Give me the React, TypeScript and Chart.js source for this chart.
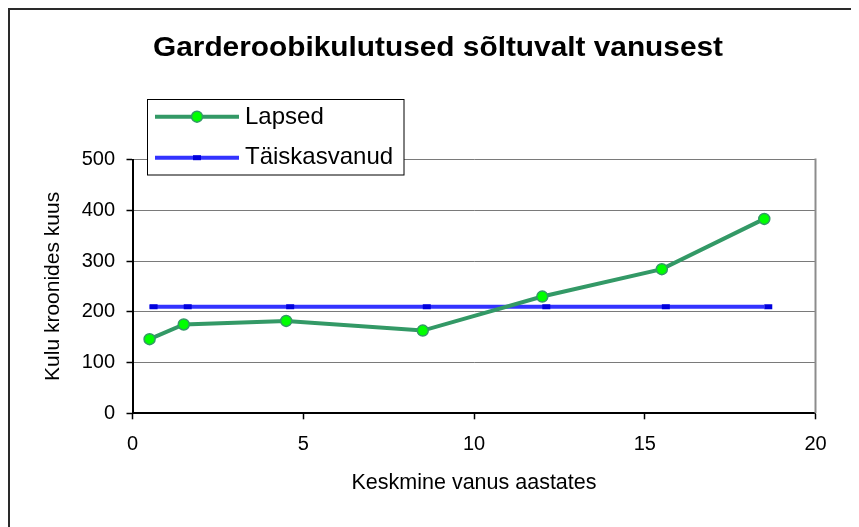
import React, { useEffect, useRef } from "react";
import { Chart, registerables } from "chart.js";

Chart.register(...registerables);

const chartTitle = "Garderoobikulutused sõltuvalt vanusest";
const xAxisTitle = "Keskmine vanus aastates";
const yAxisTitle = "Kulu kroonides kuus";

const seriesNames = ["Lapsed", "Täiskasvanud"];
const ages = [0.5, 1.5, 4.5, 8.5, 12, 15.5, 18.5];
const childCosts = [146, 175, 182, 163, 230, 284, 383];
const adultCosts = [210, 210, 210, 210, 210, 210, 210];

const xTicks = [0, 5, 10, 15, 20];
const yTicks = [0, 100, 200, 300, 400, 500];

const FONT = "'Liberation Sans', Arial, Helvetica, sans-serif";
const GREEN = "#339966";
const LIME = "#00FF00";
const BLUE_LINE = "#3333FF";
const BLUE_MARK = "#0000DD";

const decorPlugin = {
  id: "excelDecor",
  beforeDatasetsDraw(chart: any) {
    const { ctx, chartArea } = chart;
    ctx.save();
    ctx.strokeStyle = "#8c8c8c";
    ctx.lineWidth = 2;
    ctx.beginPath();
    ctx.moveTo(chartArea.right, chartArea.top - 1);
    ctx.lineTo(chartArea.right, chartArea.bottom);
    ctx.stroke();
    ctx.restore();
  },
  afterDraw(chart: any) {
    const { ctx } = chart;
    ctx.save();
    // Title (slightly wide, as in the reference rendering)
    ctx.save();
    ctx.fillStyle = "#000";
    ctx.font = `bold 28px ${FONT}`;
    ctx.textBaseline = "alphabetic";
    ctx.textAlign = "left";
    ctx.translate(143, 45.7);
    ctx.scale(1.065, 1);
    ctx.fillText(chartTitle, 0, 0);
    ctx.restore();

    // Legend box
    const bx = 137.5, by = 89.5, bw = 256.5, bh = 75.5;
    ctx.fillStyle = "#fff";
    ctx.fillRect(bx, by, bw, bh);
    ctx.strokeStyle = "#000";
    ctx.lineWidth = 1;
    ctx.strokeRect(bx, by, bw, bh);

    const ds = chart.data.datasets;
    const rows = [106.7, 147.7];
    const baselines = [114, 154.3];
    ds.forEach((d: any, i: number) => {
      const y = rows[i];
      ctx.beginPath();
      ctx.strokeStyle = d.borderColor;
      ctx.lineWidth = d.borderWidth;
      ctx.moveTo(145, y);
      ctx.lineTo(229, y);
      ctx.stroke();
      if (d.pointStyle === "dash") {
        ctx.beginPath();
        ctx.strokeStyle = d.pointBorderColor;
        ctx.lineWidth = d.pointBorderWidth;
        ctx.moveTo(183, y);
        ctx.lineTo(191, y);
        ctx.stroke();
      } else {
        ctx.beginPath();
        ctx.fillStyle = d.pointBackgroundColor;
        ctx.strokeStyle = d.pointBorderColor;
        ctx.lineWidth = d.pointBorderWidth;
        ctx.arc(187, y, d.pointRadius, 0, Math.PI * 2);
        ctx.fill();
        ctx.stroke();
      }
      ctx.fillStyle = "#000";
      ctx.font = `24px ${FONT}`;
      ctx.textAlign = "left";
      ctx.textBaseline = "alphabetic";
      ctx.fillText(d.label, 235, baselines[i]);
    });
    ctx.restore();
  },
};

export default function App() {
  const canvasRef = useRef<HTMLCanvasElement | null>(null);

  useEffect(() => {
    const canvas = canvasRef.current;
    if (!canvas) return;
    const chart = new Chart(canvas, {
      type: "line",
      data: {
        datasets: [
          {
            label: seriesNames[0],
            data: ages.map((a, i) => ({ x: a, y: childCosts[i] })),
            borderColor: GREEN,
            borderWidth: 4,
            pointStyle: "circle",
            pointRadius: 5.5,
            pointBackgroundColor: LIME,
            pointBorderColor: GREEN,
            pointBorderWidth: 1.5,
            tension: 0,
            order: 1,
          },
          {
            label: seriesNames[1],
            data: ages.map((a, i) => ({ x: a, y: adultCosts[i] })),
            borderColor: BLUE_LINE,
            borderWidth: 4,
            pointStyle: "dash",
            pointRadius: 8,
            pointBackgroundColor: BLUE_MARK,
            pointBorderColor: BLUE_MARK,
            pointBorderWidth: 5,
            tension: 0,
            order: 2,
          },
        ],
      },
      options: {
        responsive: false,
        animation: false,
        layout: { padding: { left: 0, right: 43.5, top: 149.5, bottom: 0 } },
        plugins: {
          legend: { display: false },
          title: { display: false },
          tooltip: { enabled: false },
        },
        scales: {
          x: {
            type: "linear",
            min: 0,
            max: 20,
            afterFit: (s: any) => {
              s.height = 113.7;
            },
            afterBuildTicks: (s: any) => {
              s.ticks = xTicks.map((v) => ({ value: v }));
            },
            ticks: {
              color: "#000",
              font: { family: FONT, size: 20 },
              padding: 13,
              maxRotation: 0,
              autoSkip: false,
            },
            grid: {
              display: true,
              drawOnChartArea: false,
              drawTicks: true,
              tickLength: 6,
              tickColor: "#000",
              tickWidth: 1.5,
            },
            border: { color: "#000", width: 2 },
            title: {
              display: true,
              text: xAxisTitle,
              color: "#000",
              font: { family: FONT, size: 21.5 },
              padding: { top: 0, bottom: 30.6 },
            },
          },
          y: {
            type: "linear",
            min: 0,
            max: 500,
            afterFit: (s: any) => {
              s.width = 122.5;
            },
            afterBuildTicks: (s: any) => {
              s.ticks = yTicks.map((v) => ({ value: v }));
            },
            ticks: {
              color: "#000",
              font: { family: FONT, size: 20 },
              padding: 11.5,
              autoSkip: false,
            },
            grid: {
              color: "#7a7a7a",
              lineWidth: 1,
              drawTicks: true,
              tickLength: 6,
              tickColor: "#000",
              tickWidth: 1.5,
            },
            border: { color: "#000", width: 2 },
            title: {
              display: true,
              text: yAxisTitle,
              color: "#000",
              font: { family: FONT, size: 21 },
              padding: { top: 31, bottom: 0 },
            },
          },
        },
      },
      plugins: [decorPlugin],
    });
    return () => chart.destroy();
  }, []);

  return (
    <div
      style={{
        width: 851,
        height: 519,
        boxSizing: "border-box",
        borderTop: "2px solid #2a2a2a",
        borderLeft: "2px solid #2a2a2a",
        background: "#fff",
        overflow: "hidden",
      }}
    >
      <canvas
        ref={canvasRef}
        width={849}
        height={517}
        style={{ display: "block", width: 849, height: 517 }}
      />
    </div>
  );
}
